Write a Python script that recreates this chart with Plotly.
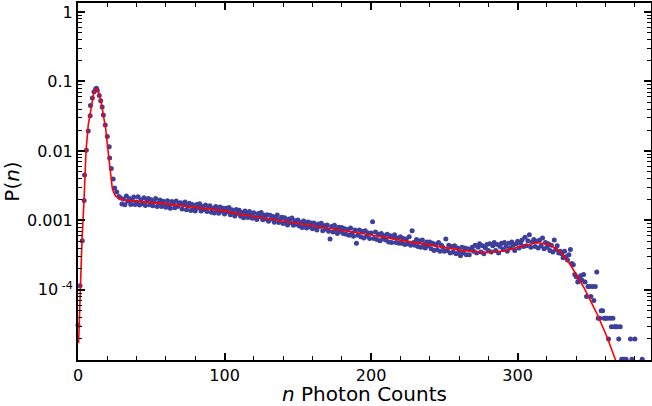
import plotly.graph_objects as go

# ---- peak region data (n, P) ----
peak_n = [0, 1.4, 2.9, 4.2, 4.5, 5.7, 7.0, 8.3, 8.5, 9.8, 10.9, 12.0, 12.6, 13.2, 14.5,
          15.5, 16.5, 17.3, 18.6, 20.0, 21.3, 21.6, 22.7, 24.0, 25.0, 26.4, 28.0]
peak_p = [3.1e-5, 1.15e-4, 5.1e-4, 1.93e-3, 4.5e-3, 1.02e-2, 1.94e-2, 3.2e-2, 4.5e-2, 5.8e-2,
          7.1e-2, 7.8e-2, 8.0e-2, 7.5e-2, 6.3e-2, 5.3e-2, 4.3e-2, 3.3e-2, 2.37e-2, 1.61e-2,
          1.15e-2, 7.9e-3, 5.6e-3, 3.96e-3, 2.93e-3, 2.56e-3, 2.2e-3]

# ---- plateau data, n = 29 .. 329, P in units of 1e-4 ----
plateau_start = 29
plateau_p_e4 = [
    21.0, 17.2, 20.3, 16.8, 22.4, 18.9, 20.6, 17.0, 19.5, 21.7, 16.9,
    18.4, 21.9, 16.6, 19.8, 17.3, 21.2, 16.4, 19.1, 20.7, 16.8,
    19.9, 16.2, 18.5, 20.6, 15.9, 17.8, 19.6, 15.8, 18.9, 16.7,
    15.4, 19.2, 16.6, 14.9, 18.7, 17.3, 15.2, 19.0, 15.8, 17.6,
    17.9, 14.6, 16.8, 18.4, 14.2, 16.1, 17.6, 13.9, 16.9, 15.0,
    13.7, 16.9, 15.2, 17.4, 13.6, 15.9, 14.3, 16.6, 13.4, 15.8,
    16.2, 13.1, 15.0, 12.8, 15.8, 14.2, 12.7, 15.6, 13.5, 14.9,
    12.4, 14.9, 13.3, 15.3, 12.1, 14.2, 12.9, 11.6, 14.4, 12.6,
    14.0, 11.5, 12.9, 10.9, 13.7, 12.2, 11.0, 13.4, 12.0, 10.7,
    12.9, 11.1, 10.3, 12.6, 11.4, 13.0, 10.2, 11.9, 10.5, 12.1,
    9.7, 11.9, 10.5, 11.4, 9.4, 10.9, 12.0, 9.3, 10.4, 11.1,
    9.0, 10.9, 9.6, 8.6, 10.5, 9.3, 10.8, 8.5, 9.9, 8.8,
    10.1, 8.3, 9.4, 7.9, 9.8, 8.7, 7.8, 9.5, 8.1, 9.2,
    7.6, 9.2, 8.0, 7.3, 8.9, 8.2, 9.1, 7.1, 8.4, 7.5,
    8.6, 7.0, 5.4, 8.2, 6.8, 8.5, 7.4, 6.5, 8.0, 6.9,
    7.9, 6.5, 7.6, 6.3, 7.4, 6.1, 7.8, 6.6, 5.9, 7.3,
    4.7, 6.1, 7.3, 5.8, 6.9, 5.6, 7.1, 5.9, 6.6, 5.5,
    6.6, 9.6, 5.5, 6.8, 5.3, 6.3, 5.1, 6.5, 5.4, 6.0,
    5.2, 6.3, 4.9, 6.0, 4.8, 5.7, 6.2, 4.8, 5.6, 4.7,
    5.8, 4.7, 5.5, 4.5, 5.4, 4.6, 5.8, 4.4, 7.1, 4.8,
    4.4, 5.3, 4.2, 5.1, 4.1, 5.2, 4.5, 4.0, 4.9, 4.3,
    4.9, 3.9, 4.7, 3.7, 4.5, 3.8, 4.8, 3.6, 4.4, 4.1,
    3.6, 5.4, 3.7, 4.4, 3.4, 4.2, 3.5, 4.3, 3.3, 4.0,
    3.5, 3.1, 4.1, 3.4, 4.0, 3.2, 3.9, 3.2, 3.8, 4.1,
    3.6, 4.4, 3.4, 4.1, 4.6, 3.5, 4.3, 3.3, 4.0, 4.5,
    3.7, 4.6, 3.5, 4.3, 4.8, 3.7, 4.5, 3.4, 4.2, 4.7,
    3.8, 4.8, 4.2, 3.6, 4.7, 4.0, 4.9, 4.4, 3.7, 4.6,
    5.0, 4.0, 4.7, 5.2, 4.2, 5.7, 4.3, 5.1, 6.2, 4.1,
    4.9, 5.3, 4.2, 5.0, 4.0, 5.2, 4.3, 5.6, 3.9, 4.8,
    4.1, 4.6, 3.7, 4.4, 3.5, 5.2, 3.8, 4.3, 3.4, 3.6,
]

# ---- tail data (n, P) ----
tail_n = [330, 331, 332, 333, 334, 335, 336, 337, 338, 339, 340, 341, 342, 343, 344, 345,
          346, 347, 348, 349, 350, 351, 352, 353, 354, 355, 356, 357, 358, 359, 360, 361,
          362, 363, 364, 365, 366, 367, 368, 369, 370, 371, 372, 373, 374, 377, 378, 380, 385]
tail_p = [3.3e-4, 2.9e-4, 3.6e-4, 3.0e-4, 2.7e-4, 3.2e-4, 3.8e-4, 2.4e-4, 2.3e-4, 1.66e-4,
          1.55e-4, 1.3e-4, 1.45e-4, 1.6e-4, 1.37e-4, 1.66e-4, 1.3e-4, 8.0e-5, 1.12e-4, 1.12e-4,
          8.0e-5, 1.12e-4, 7.0e-5, 1.12e-4, 1.8e-4, 3.9e-5, 3.9e-5, 5.0e-5, 5.0e-5, 3.9e-5,
          3.9e-5, 3.9e-5, 1.96e-5, 3.9e-5, 2.94e-5, 3.9e-5, 2.94e-5, 2.94e-5, 2.94e-5, 1.96e-5,
          2.94e-5, 1.0e-5, 1.0e-5, 1.0e-5, 1.0e-5, 1.96e-5, 1.0e-5, 1.96e-5, 1.0e-5]

# ---- fitted curve ----
fit_n = [0.4, 1.6, 2.7, 4.1, 5.5, 7.0, 9.1, 10.6, 11.4, 12.1, 13.0, 14.3, 15.8, 17.3, 18.9,
         20.0, 21.2, 22.3, 23.4, 24.6, 25.6, 26.8, 28.5, 31.4, 40, 56, 83, 100, 110, 150, 199,
         220, 245, 262, 278, 290, 302, 313, 322, 330, 336, 345, 354, 361, 366.6, 369]
fit_p = [1.7e-5, 1.15e-4, 5.1e-4, 1.93e-3, 1.02e-2, 2.37e-2, 4.6e-2, 6.5e-2, 7.3e-2, 7.8e-2,
         7.8e-2, 6.8e-2, 5.0e-2, 3.3e-2, 2.1e-2, 1.25e-2, 7.9e-3, 4.5e-3, 2.9e-3, 2.45e-3,
         2.25e-3, 2.14e-3, 2.04e-3, 1.97e-3, 1.88e-3, 1.77e-3, 1.5e-3, 1.37e-3, 1.23e-3, 9.1e-4,
         6.2e-4, 5.2e-4, 4.2e-4, 3.7e-4, 3.45e-4, 3.6e-4, 4.2e-4, 4.8e-4, 4.5e-4, 3.4e-4,
         2.3e-4, 1.1e-4, 4.6e-5, 2.1e-5, 1.0e-5, 6.5e-6]

y_tickvals = [1, 0.1, 0.01, 0.001, 1e-4]
y_ticktext = ["1", "0.1", "0.01", "0.001", "10<sup> -4</sup>"]
x_tickvals = [0, 100, 200, 300]

plateau_n = [plateau_start + i for i in range(len(plateau_p_e4))]
plateau_p = [v * 1e-4 for v in plateau_p_e4]

data_n = peak_n + plateau_n + tail_n
data_p = peak_p + plateau_p + tail_p

fig = go.Figure()
fig.add_trace(go.Scatter(
    x=data_n, y=data_p, mode="markers",
    marker=dict(size=5, color="#3e3e9c", line=dict(width=0)),
    cliponaxis=False, showlegend=False))
fig.add_trace(go.Scatter(
    x=fit_n, y=fit_p, mode="lines",
    line=dict(color="#ff0000", width=1.6), showlegend=False))

axis_font = dict(family="DejaVu Sans", size=16, color="black")
fig.update_layout(
    width=652, height=406,
    margin=dict(l=78, r=1, t=3, b=46, autoexpand=False),
    paper_bgcolor="white", plot_bgcolor="white",
    font=dict(family="DejaVu Sans", color="black"),
    xaxis=dict(
        range=[0, 391], tickvals=x_tickvals, ticks="inside", ticklen=7, tickwidth=1.5,
        tickcolor="black", showline=True, linecolor="black", linewidth=2, mirror="allticks",
        showgrid=False, zeroline=False, tickfont=axis_font,
        minor=dict(dtick=20, ticks="inside", ticklen=4, tickwidth=1.2, tickcolor="black", showgrid=False),
        title=dict(text="<i>n</i> Photon Counts", font=dict(family="DejaVu Sans", size=20), standoff=7),
    ),
    yaxis=dict(
        type="log", range=[-5.01, 0.13], tickvals=y_tickvals, ticktext=y_ticktext,
        ticks="inside", ticklen=7, tickwidth=1.5, tickcolor="black",
        showline=True, linecolor="black", linewidth=2, mirror="allticks",
        showgrid=False, zeroline=False, tickfont=axis_font,
        minor=dict(dtick="D1", ticks="inside", ticklen=4, tickwidth=1.2, tickcolor="black", showgrid=False),
        title=dict(text="P(<i>n</i>)", font=dict(family="DejaVu Sans", size=20), standoff=8),
    ),
)

fig.write_html("out.html")
